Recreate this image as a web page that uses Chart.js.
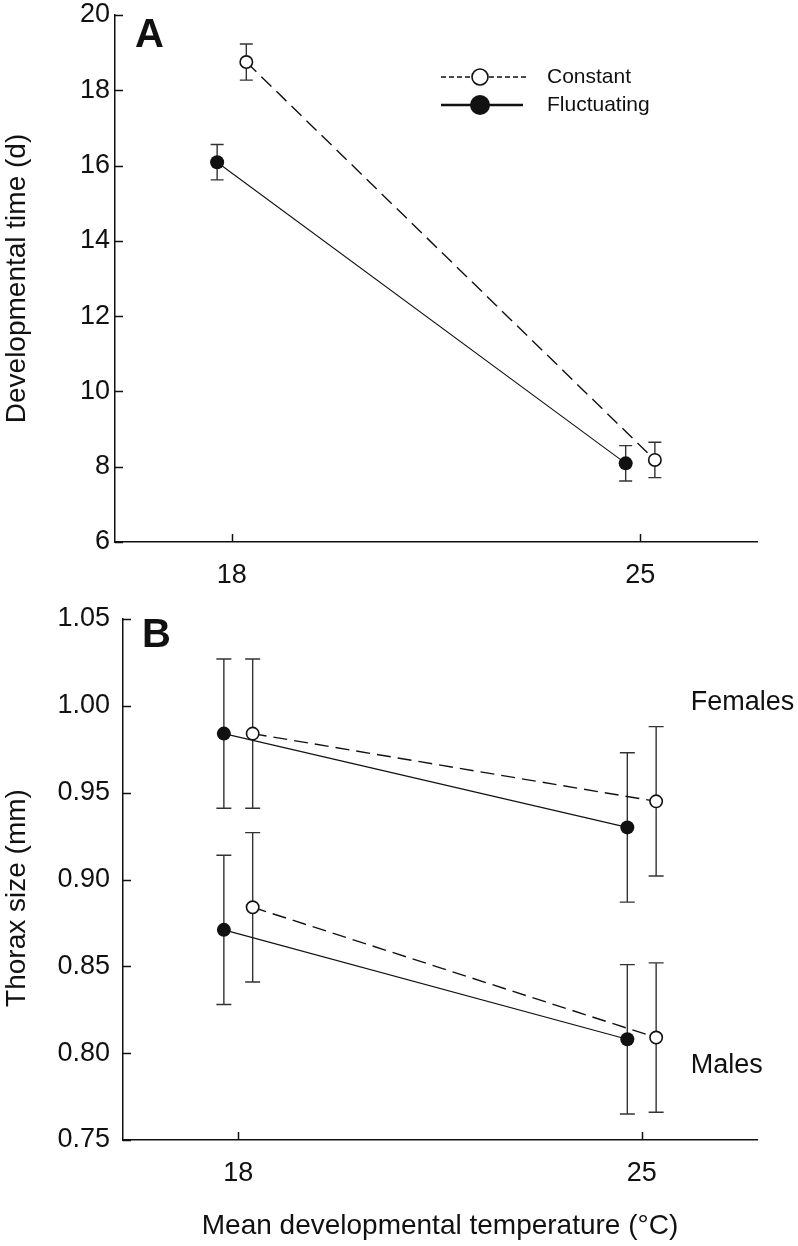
<!DOCTYPE html>
<html>
<head>
<meta charset="utf-8">
<script src="https://cdn.jsdelivr.net/npm/chart.js@4.4.1/dist/chart.umd.min.js"></script>
<style>
  body { margin: 0; background: #fff; }
  #wrap { position: relative; width: 798px; height: 1246px; }
  canvas { position: absolute; left: 0; }
</style>
</head>
<body>
<div id="wrap">
  <canvas id="chartA" width="798" height="600" style="top:0px"></canvas>
  <canvas id="chartB" width="798" height="646" style="top:600px"></canvas>
</div>
<script>
// temperatures (x categories) and tick labels
const temps = [18, 25];
const xTicks = [18, 25];
const timeTicks = [6, 8, 10, 12, 14, 16, 18, 20];
const sizeTicks = [0.75, 0.80, 0.85, 0.90, 0.95, 1.00, 1.05];

// panel A: developmental time (d), mean and error
const timeConstant = [18.75, 8.18];
const timeConstantErr = [0.48, 0.47];
const timeFluct = [16.09, 8.09];
const timeFluctErr = [0.47, 0.47];

// panel B: thorax size (mm)
const femaleConstant = [0.984, 0.945];
const femaleConstantErr = [0.043, 0.043];
const femaleFluct = [0.984, 0.930];
const femaleFluctErr = [0.043, 0.043];
const maleConstant = [0.884, 0.809];
const maleConstantErr = [0.043, 0.043];
const maleFluct = [0.871, 0.808];
const maleFluctErr = [0.043, 0.043];

const FONT = '"Liberation Sans", Arial, sans-serif';
const DODGE = 0.25;
Chart.defaults.font.family = FONT;
Chart.defaults.color = "#111";

function points(values, shift) {
    return values.map((v, i) => ({ x: temps[i] + shift, y: v }));
}

function constantSet(values, err) {
    return {
        data: points(values, DODGE), err: err,
        borderColor: "#111", borderWidth: 1.4, borderDash: [14, 7],
        pointRadius: 6.2, pointBorderWidth: 1.6,
        pointBackgroundColor: "#fff", pointBorderColor: "#111"
    };
}

function fluctSet(values, err) {
    return {
        data: points(values, -DODGE), err: err,
        borderColor: "#111", borderWidth: 1.1,
        pointRadius: 7, pointBorderWidth: 0,
        pointBackgroundColor: "#111", pointBorderColor: "#111"
    };
}

const errorBars = {
    id: "errorBars",
    beforeDatasetsDraw(chart, args, opts) {
        const ctx = chart.ctx;
        const xs = chart.scales.x, ys = chart.scales.y;
        ctx.save();
        ctx.strokeStyle = "#333";
        ctx.lineWidth = 1.4;
        chart.data.datasets.forEach(ds => {
            ds.data.forEach((p, i) => {
                const x = xs.getPixelForValue(p.x);
                const top = ys.getPixelForValue(p.y + ds.err[i]);
                const bot = ys.getPixelForValue(p.y - ds.err[i]);
                ctx.beginPath();
                ctx.moveTo(x, top); ctx.lineTo(x, bot);
                ctx.moveTo(x - opts.cap, top); ctx.lineTo(x + opts.cap, top);
                ctx.moveTo(x - opts.cap, bot); ctx.lineTo(x + opts.cap, bot);
                ctx.stroke();
            });
        });
        ctx.restore();
    }
};

// ticks point inwards in the original, so draw them over the plot area
const innerTicks = {
    id: "innerTicks",
    afterDraw(chart) {
        const ctx = chart.ctx;
        const a = chart.chartArea;
        const xs = chart.scales.x, ys = chart.scales.y;
        ctx.save();
        ctx.strokeStyle = "#111";
        ctx.lineWidth = 1.5;
        ctx.beginPath();
        ys.ticks.forEach(t => {
            const y = Math.round(ys.getPixelForValue(t.value)) + 0.5;
            ctx.moveTo(a.left, y); ctx.lineTo(a.left + 8, y);
        });
        xs.ticks.forEach(t => {
            const x = Math.round(xs.getPixelForValue(t.value)) + 0.5;
            ctx.moveTo(x, a.bottom); ctx.lineTo(x, a.bottom - 8);
        });
        ctx.stroke();
        ctx.restore();
    }
};

const panelText = {
    id: "panelText",
    afterDraw(chart, args, opts) {
        const ctx = chart.ctx;
        const xs = chart.scales.x, ys = chart.scales.y;
        ctx.save();
        ctx.fillStyle = "#111";
        ctx.textBaseline = "alphabetic";
        ctx.font = "bold 40px " + FONT;
        ctx.fillText(opts.letter, opts.letterX, opts.letterY);
        ctx.font = "27px " + FONT;
        ctx.textBaseline = "middle";
        (opts.notes || []).forEach(n => {
            ctx.fillText(n.text, xs.getPixelForValue(n.x), ys.getPixelForValue(n.y));
        });
        if (opts.yTitle) {
            ctx.font = "28px " + FONT;
            ctx.textAlign = "center";
            ctx.translate(opts.yTitle.x, opts.yTitle.y);
            ctx.rotate(-Math.PI / 2);
            ctx.fillText(opts.yTitle.text, 0, 0);
        }
        ctx.restore();
    }
};

const lineLegend = {
    id: "lineLegend",
    afterDraw(chart) {
        const ctx = chart.ctx;
        ctx.save();
        ctx.strokeStyle = "#111";
        ctx.fillStyle = "#111";
        // Constant
        ctx.lineWidth = 1.6;
        ctx.setLineDash([5, 3]);
        ctx.beginPath(); ctx.moveTo(441, 77); ctx.lineTo(527, 77); ctx.stroke();
        ctx.setLineDash([]);
        ctx.beginPath(); ctx.arc(480, 77, 8, 0, Math.PI * 2);
        ctx.fillStyle = "#fff"; ctx.fill(); ctx.stroke();
        // Fluctuating
        ctx.lineWidth = 2.4;
        ctx.beginPath(); ctx.moveTo(441, 105); ctx.lineTo(523, 105); ctx.stroke();
        ctx.beginPath(); ctx.arc(480, 105, 10, 0, Math.PI * 2);
        ctx.fillStyle = "#111"; ctx.fill();
        ctx.font = "21px " + FONT;
        ctx.textBaseline = "middle";
        ctx.fillText("Constant", 547, 77);
        ctx.fillText("Fluctuating", 547, 105);
        ctx.restore();
    }
};

function yScale(min, max, ticks, digits, width, pad, title) {
    return {
        type: "linear", min: min, max: max,
        grid: { display: false, drawTicks: false },
        border: { color: "#111", width: 1.5 },
        ticks: { font: { size: 27 }, color: "#111", padding: pad,
                 callback: v => v.toFixed(digits) },
        afterBuildTicks: s => { s.ticks = ticks.map(v => ({ value: v })); },
        afterFit: s => { s.width = width; s.paddingTop = 0; s.paddingBottom = 0; },
        title: { display: !!title, text: title || "", font: { size: 28 }, color: "#111", padding: 0 }
    };
}

function xScale(height, title) {
    return {
        type: "linear", min: 16, max: 27,
        grid: { display: false, drawTicks: false },
        border: { color: "#111", width: 1.5 },
        ticks: { font: { size: 27 }, color: "#111", padding: 17 },
        afterBuildTicks: s => { s.ticks = xTicks.map(v => ({ value: v })); },
        afterFit: s => { s.height = height; s.paddingLeft = 0; s.paddingRight = 0; },
        title: { display: !!title, text: title || "", font: { size: 28 }, color: "#111",
                 padding: { top: 0, bottom: 3 } }
    };
}

new Chart(document.getElementById("chartA"), {
    type: "line",
    data: { datasets: [constantSet(timeConstant, timeConstantErr), fluctSet(timeFluct, timeFluctErr)] },
    options: {
        responsive: false, animation: false,
        layout: { padding: { top: 15, right: 41, left: 0, bottom: 0 } },
        plugins: {
            legend: { display: false }, tooltip: { enabled: false },
            errorBars: { cap: 6.5 },
            panelText: { letter: "A", letterX: 135, letterY: 47 }
        },
        scales: {
            x: xScale(58),
            y: yScale(6, 20, timeTicks, 0, 115, 5, "Developmental time (d)")
        }
    },
    plugins: [errorBars, innerTicks, panelText, lineLegend]
});

new Chart(document.getElementById("chartB"), {
    type: "line",
    data: {
        datasets: [
            constantSet(femaleConstant, femaleConstantErr), fluctSet(femaleFluct, femaleFluctErr),
            constantSet(maleConstant, maleConstantErr), fluctSet(maleFluct, maleFluctErr)
        ]
    },
    options: {
        responsive: false, animation: false,
        layout: { padding: { top: 19, right: 41, left: 0, bottom: 0 } },
        plugins: {
            legend: { display: false }, tooltip: { enabled: false },
            errorBars: { cap: 7.5 },
            panelText: {
                letter: "B", letterX: 142, letterY: 47,
                notes: [{ text: "Females", x: 25.85, y: 1.002 }, { text: "Males", x: 25.85, y: 0.793 }],
                yTitle: { text: "Thorax size (mm)", x: 17, y: 298 }
            }
        },
        scales: {
            x: xScale(106, "Mean developmental temperature (°C)"),
            y: yScale(0.75, 1.05, sizeTicks, 2, 123, 13)
        }
    },
    plugins: [errorBars, innerTicks, panelText]
});
</script>
</body>
</html>
